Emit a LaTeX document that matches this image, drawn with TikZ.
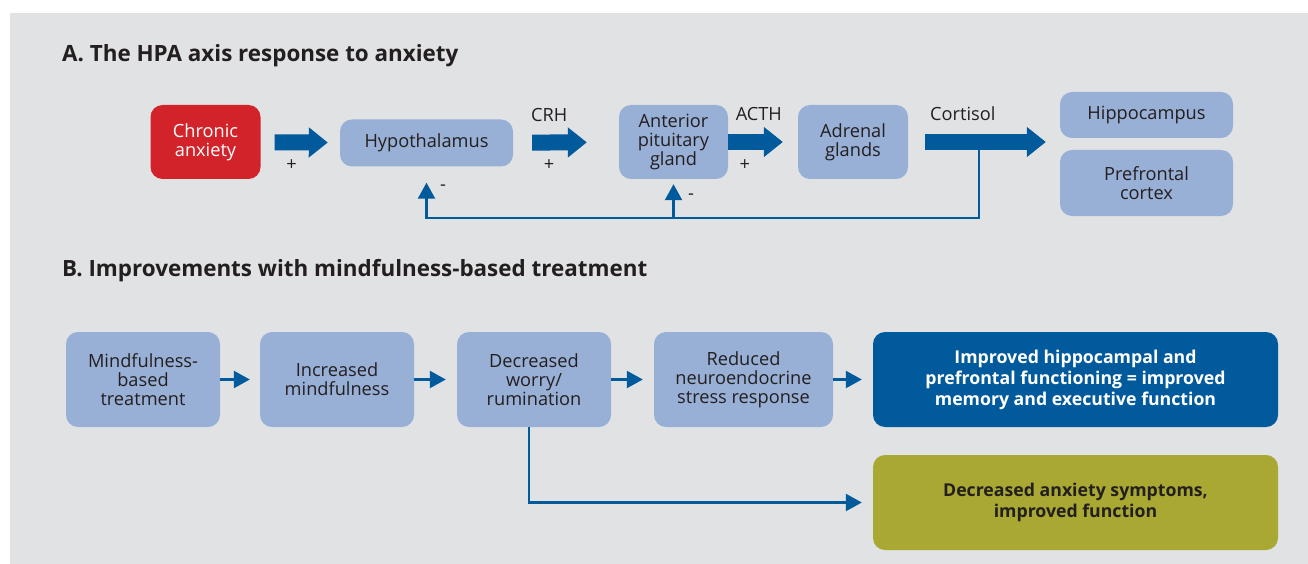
\documentclass[tikz,border=0pt]{standalone}
\usepackage{fontspec}
\setmainfont{Open Sans}
\usetikzlibrary{arrows.meta,positioning}
\definecolor{bggray}{HTML}{E1E2E4}
\definecolor{boxblue}{HTML}{98AFD6}
\definecolor{darkblue}{HTML}{005A9C}
\definecolor{alarmred}{HTML}{D2232A}
\definecolor{olivegreen}{HTML}{A8A832}
\definecolor{ink}{HTML}{231F20}
\tikzset{
  box/.style={fill=boxblue, rounded corners=12pt, align=center, text=ink,
    font=\fontsize{18.2}{19}\selectfont, inner sep=0pt},
  fat/.style={draw=darkblue, line width=16pt, -{Triangle[length=19pt,width=29pt]}},
  thin/.style={draw=darkblue, line width=2.3pt, -{Triangle[length=16pt,width=17pt]}},
  sign/.style={text=ink, font=\fontsize{18.2}{19}\selectfont, inner sep=0pt},
  heading/.style={anchor=west, text=ink, font=\bfseries\fontsize{22.4}{24}\selectfont, inner sep=0pt},
}
\begin{document}
\begin{tikzpicture}[x=1pt,y=-1pt]
	\useasboundingbox (0,0) rectangle (1308,564);
	\fill[bggray] (10,13) rectangle (1308,564);
	% A. HPA axis
	\node (ta) [heading] at (62,56) {A. The HPA axis response to anxiety};
	\node (chronic) [box,fill=alarmred,text=white,minimum width=110pt,minimum height=74pt] at (205.5,142) {Chronic\\anxiety};
	\node (hypo) [box,minimum width=173pt,minimum height=47pt,right of=chronic,node distance=221pt,yshift=-1pt] {Hypothalamus};
	\node (pit) [box,minimum width=109pt,minimum height=74pt,right of=hypo,node distance=247pt,yshift=1pt] {Anterior\\pituitary\\gland};
	\node (adrenal) [box,minimum width=110pt,minimum height=74pt,right of=pit,node distance=179.5pt] {Adrenal\\glands};
	\node (hippo) [box,minimum width=173pt,minimum height=46pt] at (1146.5,115) {Hippocampus};
	\node (pfc) [box,minimum width=173pt,minimum height=66pt,below of=hippo,node distance=68pt] {Prefrontal\\cortex};
	\draw (chronic) edge[fat,shorten <=14pt,shorten >=12pt] node [sign,pos=.39,yshift=-23pt] {+} (hypo);
	\draw (hypo) edge[fat,shorten <=19pt,shorten >=32pt] node [sign,pos=.34,yshift=28pt] {CRH} node [sign,pos=.34,yshift=-23pt] {+} (pit);
	\draw (pit) edge[fat,shorten >=15pt] node [sign,pos=.44,yshift=28pt] {ACTH} node [sign,pos=.24,yshift=-23pt] {+} (adrenal);
	\draw (adrenal.east) edge[fat,shorten <=17pt,shorten >=14pt] node [sign,pos=.36,yshift=28pt] {Cortisol} (hippo.west |- adrenal.east);
	% negative feedback
	\coordinate (fb) at (979,150);
	\coordinate (fbbase) at (979,218);
	\draw[thin] (fb) -- (fbbase) -| (hypo.south) [shorten >=16pt];
	\draw[thin,shorten >=5pt] (pit.south |- fbbase) -- (pit.south);
	\node (m1) [sign] at (443,188) {-};
	\node (m2) [sign] at (691,197) {-};
	% B. mindfulness
	\node (tb) [heading] at (62,271) {B. Improvements with mindfulness-based treatment};
	\node (mbt) [box,minimum width=154pt,minimum height=95pt] at (143,379.5) {Mindfulness-\\based\\treatment};
	\node (incr) [box,minimum width=154pt,minimum height=95pt,right of=mbt,node distance=194pt] {Increased\\mindfulness};
	\node (worry) [box,minimum width=154pt,minimum height=95pt,right of=incr,node distance=197pt] {Decreased\\worry/\\rumination};
	\node (neuro) [box,minimum width=179pt,minimum height=95pt,right of=worry,node distance=209.5pt] {Reduced\\neuroendocrine\\stress response};
	\node (func) [box,fill=darkblue,text=white,font=\bfseries\fontsize{17.7}{21}\selectfont,minimum width=405pt,minimum height=95pt,right of=neuro,node distance=332pt] {Improved hippocampal and\\prefrontal functioning = improved\\memory and executive function};
	\node (symp) [box,fill=olivegreen,font=\bfseries\fontsize{17.7}{21}\selectfont,minimum width=405pt,minimum height=95pt,below of=func,node distance=123pt] {Decreased anxiety symptoms,\\improved function};
	\draw (mbt) edge[thin,shorten >=10pt] (incr);
	\draw (incr) edge[thin,shorten >=11pt] (worry);
	\draw (worry) edge[thin,shorten >=11pt] (neuro);
	\draw (neuro) edge[thin,shorten >=11pt] (func);
	\draw[thin,shorten >=11pt] ([xshift=-5pt]worry.south) |- (symp.west);
\end{tikzpicture}
\end{document}
